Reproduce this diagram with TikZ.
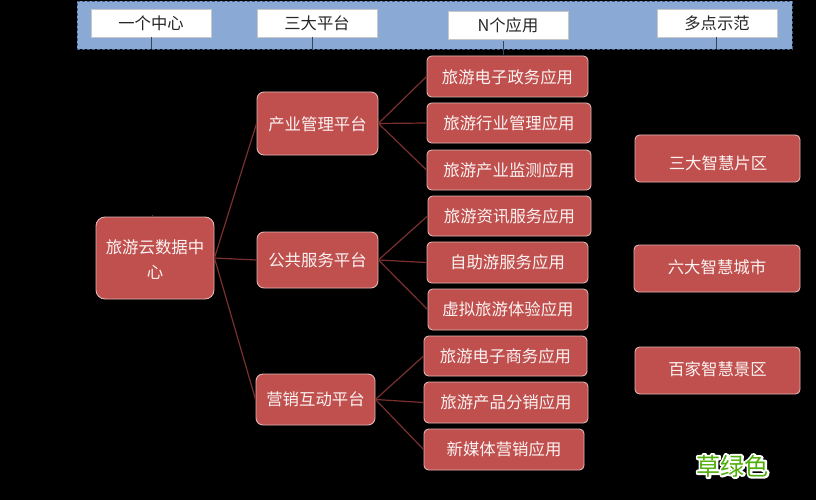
\documentclass[tikz,border=0pt]{standalone}
\usepackage{fontspec}
\setmainfont{Noto Sans CJK SC}
\definecolor{bandblue}{HTML}{8AAAD5}
\definecolor{banddash}{HTML}{3F5F8A}
\definecolor{boxred}{HTML}{C0504D}
\definecolor{boxedge}{HTML}{DDB5B3}
\definecolor{linkred}{HTML}{7A302E}
\definecolor{tickgrey}{HTML}{33475F}
\definecolor{grassgreen}{HTML}{4FAE0A}
\tikzset{
  redbox/.style={rectangle,rounded corners=4.5pt,fill=boxred,draw=boxedge,line width=0.9pt,text=white!93!boxred,font=\fontsize{16.4}{25}\selectfont,align=center,inner sep=0pt},
  hubbox/.style={redbox,rounded corners=7pt},
  corebox/.style={redbox,rounded corners=9pt},
  whitebox/.style={rectangle,fill=white,draw=black!22,line width=0.7pt,text=black!85,font=\fontsize{16.3}{20}\selectfont,inner sep=0pt},
  link/.style={draw=linkred,line width=1.2pt},
  tick/.style={draw=tickgrey,line width=0.9pt},
  band/.style={rectangle,fill=bandblue,draw=banddash,line width=0.8pt,dash pattern=on 3pt off 2pt,inner sep=0pt},
  logo/.style={font=\fontsize{24}{28}\selectfont,inner sep=0pt}
}
% vertical nudges of a label inside its box, by an invisible strut
\newcommand{\dnby}[1]{\rule[-3pt]{0pt}{\dimexpr 18pt+2\dimexpr #1pt\relax\relax}}
\newcommand{\upby}[1]{\rule[\dimexpr -3pt-2\dimexpr #1pt\relax\relax]{0pt}{\dimexpr 18pt+2\dimexpr #1pt\relax\relax}}
% #1 style, #2 name, #3 x0, #4 y0, #5 x1, #6 y1, #7 text
\newcommand{\pxbox}[7]{%
  \pgfmathsetmacro{\bw}{#5-#3}\pgfmathsetmacro{\bh}{#6-#4}%
  \pgfmathsetmacro{\bx}{(#3+#5)/2}\pgfmathsetmacro{\by}{(#4+#6)/2}%
  \node[#1,minimum width=\bw pt,minimum height=\bh pt] (#2) at (\bx,\by) {#7};%
}
\begin{document}
\begin{tikzpicture}[x=1pt,y=-1pt]
\useasboundingbox[fill=black] (0,0) rectangle (816,500);
\pxbox{band}{topband}{77}{1}{792}{49}{}
\pxbox{whitebox}{h1}{91}{9}{211}{37}{一个中心}
\pxbox{whitebox}{h2}{257}{9}{377}{37}{三大平台}
\pxbox{whitebox}{h3}{448}{11}{568}{39}{\dnby{1}N个应用}
\pxbox{whitebox}{h4}{657}{9}{777}{37}{多点示范}
\pxbox{corebox}{core}{96}{217}{214}{299}{\dnby{1}旅游云数据中\\心}
\pxbox{hubbox}{p1}{257}{92}{378}{155}{\dnby{1}产业管理平台}
\pxbox{hubbox}{p2}{257}{232}{378}{288}{公共服务平台}
\pxbox{hubbox}{p3}{256}{374}{375}{425}{营销互动平台}
\pxbox{redbox}{a1}{427}{56}{588}{97}{\dnby{1.5}旅游电子政务应用}
\pxbox{redbox}{a2}{427}{103}{591}{143}{旅游行业管理应用}
\pxbox{redbox}{a3}{427}{150}{591}{190}{旅游产业监测应用}
\pxbox{redbox}{a4}{428}{196}{591}{236}{旅游资讯服务应用}
\pxbox{redbox}{a5}{427}{242}{588}{283}{自助游服务应用}
\pxbox{redbox}{a6}{428}{289}{588}{330}{虚拟旅游体验应用}
\pxbox{redbox}{a7}{424}{336}{587}{376}{旅游电子商务应用}
\pxbox{redbox}{a8}{424}{382}{588}{423}{旅游产品分销应用}
\pxbox{redbox}{a9}{424}{429}{584}{470}{新媒体营销应用}
\pxbox{redbox}{d1}{635}{135}{800}{182}{\hspace{1pt}\dnby{5}三大智慧片区}
\pxbox{redbox}{d2}{634}{245}{800}{292}{\upby{1}六大智慧城市}
\pxbox{redbox}{d3}{635}{347}{800}{394}{\upby{1}百家智慧景区}
\foreach \s/\t in {core/p1,core/p2,core/p3,p1/a1,p1/a2,p1/a3,p2/a4,p2/a5,p2/a6,p3/a7,p3/a8,p3/a9}
  \draw[link] (\s.east) -- (\t.west);
\coordinate (t1) at (151.5,49);
\coordinate (t2) at (312.3,49);
\coordinate (t3) at (503.3,56);
\coordinate (t4) at (716.7,49);
\coordinate (t5) at (152,215);
\draw[tick] (h1.south -| t1) -- (t1);
\draw[tick] (h2.south -| t2) -- (t2);
\draw[tick] ([yshift=-2pt]h3.south -| t3) -- (t3);
\draw[tick] (h4.south -| t4) -- (t4);
\draw[tick,draw=linkred] (core.north -| t5) -- (t5);
\node[logo,text=white] (halo) at (732.5,466) {\special{pdf:code q 1 Tr 4 w 1 j 1 1 1 RG}草绿色\special{pdf:code Q}};
\node[logo,text=grassgreen] (brand) at (732.5,466) {草绿色};
\end{tikzpicture}
\end{document}
